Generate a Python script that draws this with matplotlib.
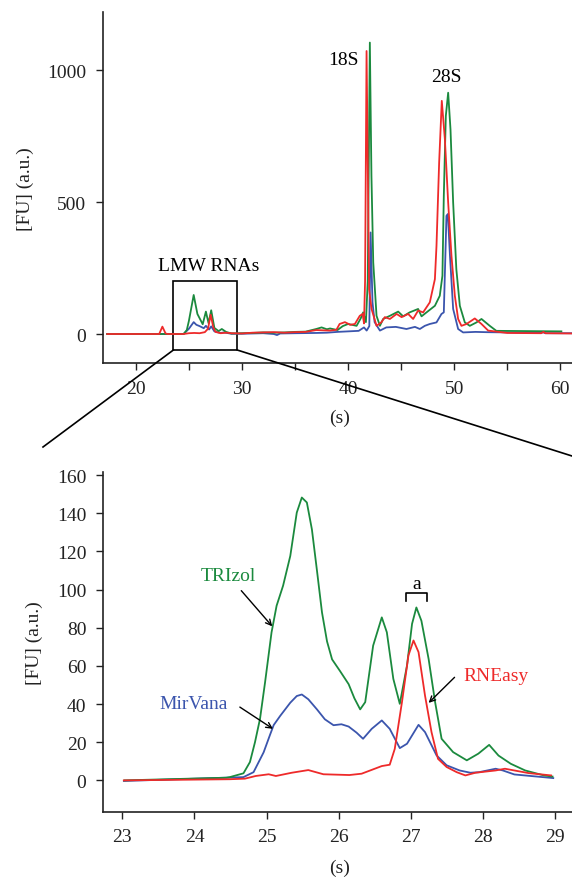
import matplotlib.pyplot as plt
from matplotlib.lines import Line2D

plt.rcParams['font.family'] = ['Liberation Serif', 'DejaVu Serif']

VERDE = '#1b8a3e'
AZUL = '#3b55ad'
VERMELHO = '#ee2a2a'
TEXTO = '#222222'

# electroferograma completo (s, FU)
tempoTri = [17.3, 24.5, 24.8, 25.0, 25.45, 25.8, 26.3, 26.6, 26.85, 27.1, 27.4, 27.8, 28.1, 28.5, 29.0,
            30.0, 31.0, 32.0, 33.0, 34.0, 35.0, 36.0, 37.0, 37.5, 38.0, 38.3, 39.0, 39.5, 40.0, 40.8,
            41.2, 41.42, 41.68, 41.85, 42.05, 42.2, 42.37, 42.68, 43.0, 43.3, 43.94, 44.72, 45.19,
            45.8, 46.6, 46.92, 47.39, 48.18, 48.64, 48.89, 49.02, 49.21, 49.43, 49.65, 49.9, 50.2,
            50.53, 51.0, 51.47, 52.1, 52.57, 53.35, 53.97, 57.0, 60.1]
fuTri = [0, 0, 15, 50, 148, 76, 37, 85, 41, 90, 23, 11, 19, 8, 2,
         3, 4, 6, 5, 6, 8, 9, 19, 25, 18, 21, 15, 30, 38, 31,
         60, 82, 45, 200, 1105, 600, 272, 69, 31, 57, 69, 85, 67,
         82, 95, 67, 82, 107, 145, 221, 524, 827, 915, 776, 499, 246,
         107, 44, 31, 44, 57, 31, 12, 11, 10]

tempoMir = [17.3, 24.5, 25.0, 25.45, 25.7, 26.0, 26.4, 26.6, 26.9, 27.1, 27.4, 28.0, 28.3, 29.0,
            30.0, 31.0, 32.0, 33.0, 33.3, 33.6, 35.0, 37.0, 38.0, 39.0, 40.0, 41.0, 41.5, 41.75,
            42.0, 42.12, 42.3, 42.5, 43.0, 43.6, 44.5, 45.5, 46.3, 46.76, 47.23, 47.7, 48.33, 48.8,
            49.02, 49.27, 49.4, 49.6, 49.9, 50.37, 50.84, 52.0, 53.0, 55.0, 57.0, 58.4, 58.6, 61.1]
fuMir = [0, 0, 20, 45, 35, 30, 22, 31, 17, 29, 10, 4, 6, 1,
         1, 2, 3, 0, -4, 2, 3, 4, 5, 8, 10, 12, 25, 13,
         30, 385, 120, 45, 13, 25, 27, 19, 27, 19, 31, 38, 44, 76,
         82, 448, 455, 297, 95, 19, 6, 8, 7, 6, 4, 6, 3, 3]

tempoRNE = [17.3, 22.2, 22.5, 22.8, 23.0, 24.5, 25.0, 25.5, 26.0, 26.5, 26.8, 27.05, 27.3, 27.5,
            28.0, 28.5, 29.0, 30.0, 31.0, 32.0, 33.0, 34.0, 35.0, 36.0, 37.0, 38.3, 38.9, 39.2,
            39.7, 40.2, 40.64, 41.1, 41.37, 41.5, 41.6, 41.74, 41.98, 42.21, 42.68, 43.15, 43.46,
            43.94, 44.57, 45.04, 45.66, 46.13, 46.6, 47.07, 47.7, 48.18, 48.33, 48.58, 48.83, 49.12,
            49.43, 49.74, 50.06, 50.37, 50.68, 51.16, 51.94, 52.57, 53.2, 55.0, 58.2, 58.4, 58.6, 61.1]
fuRNE = [0, 0, 28, 2, 0, 0, 3, 4, 3, 7, 20, 73, 25, 8,
         3, 5, 3, 2, 5, 6, 7, 5, 7, 8, 15, 13, 16, 38,
         45, 35, 38, 69, 76, 40, 200, 1073, 170, 95, 31, 45, 64,
         57, 76, 64, 76, 57, 89, 82, 120, 208, 334, 650, 884, 739,
         499, 297, 145, 57, 31, 38, 59, 38, 13, 4, 3, 8, 3, 2]

# detalhe LMW RNAs
lmwTempoTri = [23.03, 24.44, 24.49, 24.68, 24.77, 24.84, 24.91, 24.98, 25.07, 25.14, 25.23, 25.33,
               25.42, 25.49, 25.56, 25.63, 25.7, 25.77, 25.84, 25.91, 26.02, 26.14, 26.22, 26.3,
               26.37, 26.48, 26.6, 26.67, 26.76, 26.85, 26.95, 27.02, 27.08, 27.15, 27.25, 27.34,
               27.43, 27.59, 27.78, 27.94, 28.09, 28.22, 28.39, 28.59, 28.85, 28.97]
lmwFuTri = [0, 1.4, 1.7, 3.7, 9.6, 20, 32.3, 51.4, 77.6, 91.5, 102, 117.6,
            140.3, 148.2, 145.6, 131.5, 110, 88, 72.8, 63.4, 57.3, 50.4, 43, 37.2,
            41, 70.6, 85.4, 77.6, 53.2, 40.1, 60.2, 82, 90.6, 83.6, 63.6, 41,
            21.8, 14.8, 10.5, 14, 18.6, 13, 8.7, 5.2, 2.6, 2]

lmwTempoMir = [23.02, 24.68, 24.82, 24.96, 25.05, 25.1, 25.19, 25.33, 25.42, 25.49, 25.58, 25.7,
               25.81, 25.93, 26.04, 26.14, 26.25, 26.34, 26.46, 26.6, 26.71, 26.85, 26.95, 27.11,
               27.2, 27.36, 27.5, 27.68, 27.83, 27.95, 28.18, 28.28, 28.44, 28.98]
lmwFuMir = [-0.3, 1.7, 4.3, 14.7, 24, 29, 33.8, 40.7, 44.2, 45, 42.5, 37.2,
            32, 28.9, 29.4, 28.2, 25, 21.8, 27, 31.4, 27, 16.9, 19.2, 29.1,
            25.3, 13.1, 7.9, 5.2, 4, 4.3, 6.1, 5.2, 3.1, 1.2]

lmwTempoRNE = [23.02, 24.49, 24.7, 24.85, 25.03, 25.13, 25.35, 25.58, 25.79, 26.15, 26.32, 26.6,
               26.71, 26.78, 26.88, 26.97, 27.04, 27.11, 27.2, 27.29, 27.38, 27.5, 27.64, 27.76,
               27.9, 28.18, 28.31, 28.64, 28.95]
lmwFuRNE = [0, 0.6, 0.9, 2.3, 3.2, 2.3, 4, 5.4, 3.2, 2.8, 3.5, 7.5,
            8.2, 16.5, 41, 65.5, 73.3, 67.2, 44.4, 25.3, 11.3, 7, 4.3, 2.6,
            4, 5.2, 6.1, 3.8, 2.6]


def estilo(ax):
    for lado in ['top', 'right']:
        ax.spines[lado].set_visible(False)
    for lado in ['left', 'bottom']:
        ax.spines[lado].set_linewidth(1.2)
        ax.spines[lado].set_color(TEXTO)
    ax.tick_params(axis='both', direction='out', length=5, width=1, color=TEXTO,
                   labelsize=14, labelcolor=TEXTO)
    ax.tick_params(axis='x', pad=7)
    ax.tick_params(axis='y', pad=7)


fig = plt.figure(figsize=(5.72, 8.78), dpi=100)

# painel de cima
ax1 = fig.add_axes([0.18, 0.5854, 0.82, 0.3995])
ax1.plot(tempoMir, fuMir, color=AZUL, lw=1.3)
ax1.plot(tempoTri, fuTri, color=VERDE, lw=1.3)
ax1.plot(tempoRNE, fuRNE, color=VERMELHO, lw=1.3)
ax1.set_xlim(16.9, 61.1)
ax1.set_ylim(-110, 1220)
ax1.set_xticks([20, 25, 30, 35, 40, 45, 50, 55, 60])
ax1.set_xticklabels(['20', '', '30', '', '40', '', '50', '', '60'])
ax1.set_yticks([0, 500, 1000])
estilo(ax1)
ax1.set_ylabel('[FU] (a.u.)', fontsize=14, color=TEXTO)
ax1.yaxis.set_label_coords(-0.147, 0.5)
ax1.text(0.504, -0.154, '(s)', transform=ax1.transAxes, ha='center', va='center',
         fontsize=14, color=TEXTO)
ax1.text(39.6, 1042, '18S', ha='center', va='center', fontsize=14, color='black')
ax1.text(49.3, 978, '28S', ha='center', va='center', fontsize=14, color='black')
ax1.text(26.9, 259, 'LMW RNAs', ha='center', va='center', fontsize=14, color='black')
ax1.add_patch(plt.Rectangle((23.54, -60), 6.01, 260, fill=False, ec='black', lw=1.2))

# linhas de ligação
fig.add_artist(Line2D([173.4 / 572, 43 / 572], [1 - 351 / 878, 1 - 448 / 878],
                      color='black', lw=1.2))
fig.add_artist(Line2D([237.2 / 572, 1.0], [1 - 351 / 878, 1 - 457 / 878],
                      color='black', lw=1.2))

# painel de baixo
ax2 = fig.add_axes([0.18, 0.0744, 0.82, 0.3865])
ax2.plot(lmwTempoMir, lmwFuMir, color=AZUL, lw=1.3)
ax2.plot(lmwTempoTri, lmwFuTri, color=VERDE, lw=1.3)
ax2.plot(lmwTempoRNE, lmwFuRNE, color=VERMELHO, lw=1.3)
ax2.set_xlim(22.73, 29.24)
ax2.set_ylim(-16.4, 161.4)
ax2.set_xticks([23, 24, 25, 26, 27, 28, 29])
ax2.set_yticks([0, 20, 40, 60, 80, 100, 120, 140, 160])
estilo(ax2)
ax2.set_ylabel('[FU] (a.u.)', fontsize=14, color=TEXTO)
ax2.yaxis.set_label_coords(-0.128, 0.5)
ax2.text(0.504, -0.163, '(s)', transform=ax2.transAxes, ha='center', va='center',
         fontsize=14, color=TEXTO)

seta = dict(arrowstyle='->', color='black', lw=1.0, shrinkA=0, shrinkB=0)
ax2.text(24.47, 107.2, 'TRIzol', ha='center', va='center', fontsize=14, color=VERDE)
ax2.annotate('', xy=(25.08, 80.7), xytext=(24.65, 99.4), arrowprops=seta)
ax2.text(23.99, 40.3, 'MirVana', ha='center', va='center', fontsize=14, color=AZUL)
ax2.annotate('', xy=(25.09, 27), xytext=(24.63, 38.4), arrowprops=seta)
ax2.text(28.19, 54.9, 'RNEasy', ha='center', va='center', fontsize=14, color=VERMELHO)
ax2.annotate('', xy=(27.25, 40.6), xytext=(27.61, 54), arrowprops=seta)
ax2.plot([26.93, 26.93, 27.23, 27.23], [94.1, 98.1, 98.1, 94.1], color='black', lw=1.2)
ax2.text(27.08, 103.4, 'a', ha='center', va='center', fontsize=14, color='black')

fig.savefig('out.png', dpi=100)
